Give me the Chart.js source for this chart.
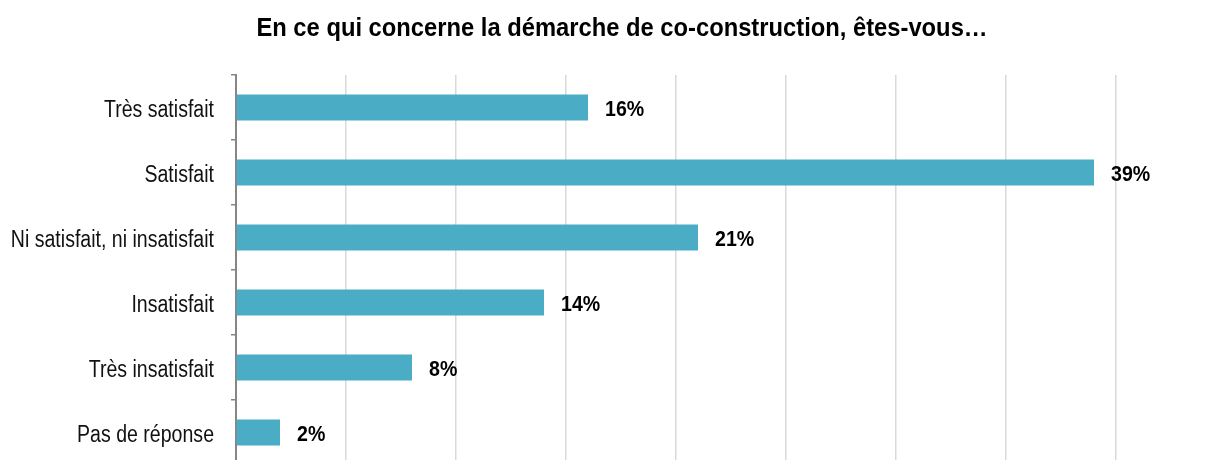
<!DOCTYPE html>
<html>
<head>
<meta charset="utf-8">
<script src="https://cdn.jsdelivr.net/npm/chart.js@4"></script>
<style>
  html, body { margin: 0; padding: 0; background: #fff; overflow: hidden; }
  #wrap { position: relative; width: 1214px; height: 460px; overflow: hidden; }
  #title {
    position: absolute; left: 622px; top: 15px; white-space: nowrap;
    transform: translateX(-50%) scaleX(0.95);
    font: bold 25px/25px "Liberation Sans", Arial, sans-serif;
    color: #000;
  }
</style>
</head>
<body>
<div id="wrap">
  <div id="title">En ce qui concerne la démarche de co-construction, êtes-vous…</div>
  <canvas id="chart" width="1214" height="470"></canvas>
</div>
<script>
const CATEGORIES = ["Très satisfait", "Satisfait", "Ni satisfait, ni insatisfait", "Insatisfait", "Très insatisfait", "Pas de réponse"];
const VALUES = [16, 39, 21, 14, 8, 2];
const X_MAX = 40;
const X_STEP = 5;

const FONT = '"Liberation Sans", Arial, sans-serif';

// Arial Narrow is not available, so squeeze Liberation Sans horizontally
function narrowText(ctx, text, x, y, squeeze) {
  ctx.save();
  ctx.translate(x, y);
  ctx.scale(squeeze, 1);
  ctx.fillText(text, 0, 0);
  ctx.restore();
}

const narrowLabels = {
  id: "narrowLabels",
  afterDraw(c) {
    const { ctx } = c;
    const y = c.scales.y;
    const meta = c.getDatasetMeta(0);
    ctx.save();
    ctx.fillStyle = "#111";
    ctx.textBaseline = "alphabetic";

    ctx.font = `23px ${FONT}`;
    ctx.textAlign = "right";
    CATEGORIES.forEach((label, i) => {
      narrowText(ctx, label, y.right - 22, y.getPixelForTick(i) + 9, 0.85);
    });

    ctx.fillStyle = "#000";
    ctx.font = `bold 22px ${FONT}`;
    ctx.textAlign = "left";
    meta.data.forEach((bar, i) => {
      narrowText(ctx, `${VALUES[i]}%`, bar.x + 17, bar.y + 8, 0.89);
    });
    ctx.restore();
  },
};

new Chart(document.getElementById("chart"), {
  type: "bar",
  data: {
    labels: CATEGORIES,
    datasets: [{
      data: VALUES,
      backgroundColor: "#4bacc6",
      borderWidth: 0,
      categoryPercentage: 1,
      barPercentage: 0.4,
    }],
  },
  options: {
    indexAxis: "y",
    responsive: false,
    animation: false,
    layout: { padding: { top: 75, right: 98, left: 0, bottom: 0 } },
    plugins: { legend: { display: false }, tooltip: { enabled: false }, title: { display: false } },
    scales: {
      x: {
        min: 0,
        max: X_MAX,
        ticks: { display: false, stepSize: X_STEP },
        border: { display: false },
        grid: {
          drawTicks: false,
          lineWidth: 1.5,
          color: (ctx) => (ctx.tick && ctx.tick.value === 0 ? "rgba(0,0,0,0)" : "#d9d9d9"),
        },
        afterFit(scale) { scale.height = 5; },
      },
      y: {
        ticks: { display: false },
        border: { display: true, color: "#868686", width: 2 },
        grid: { offset: true, drawOnChartArea: false, drawTicks: true, tickLength: 5, color: "#868686", lineWidth: 1.5 },
        afterFit(scale) { scale.width = 236; },
      },
    },
  },
  plugins: [narrowLabels],
});
</script>
</body>
</html>
